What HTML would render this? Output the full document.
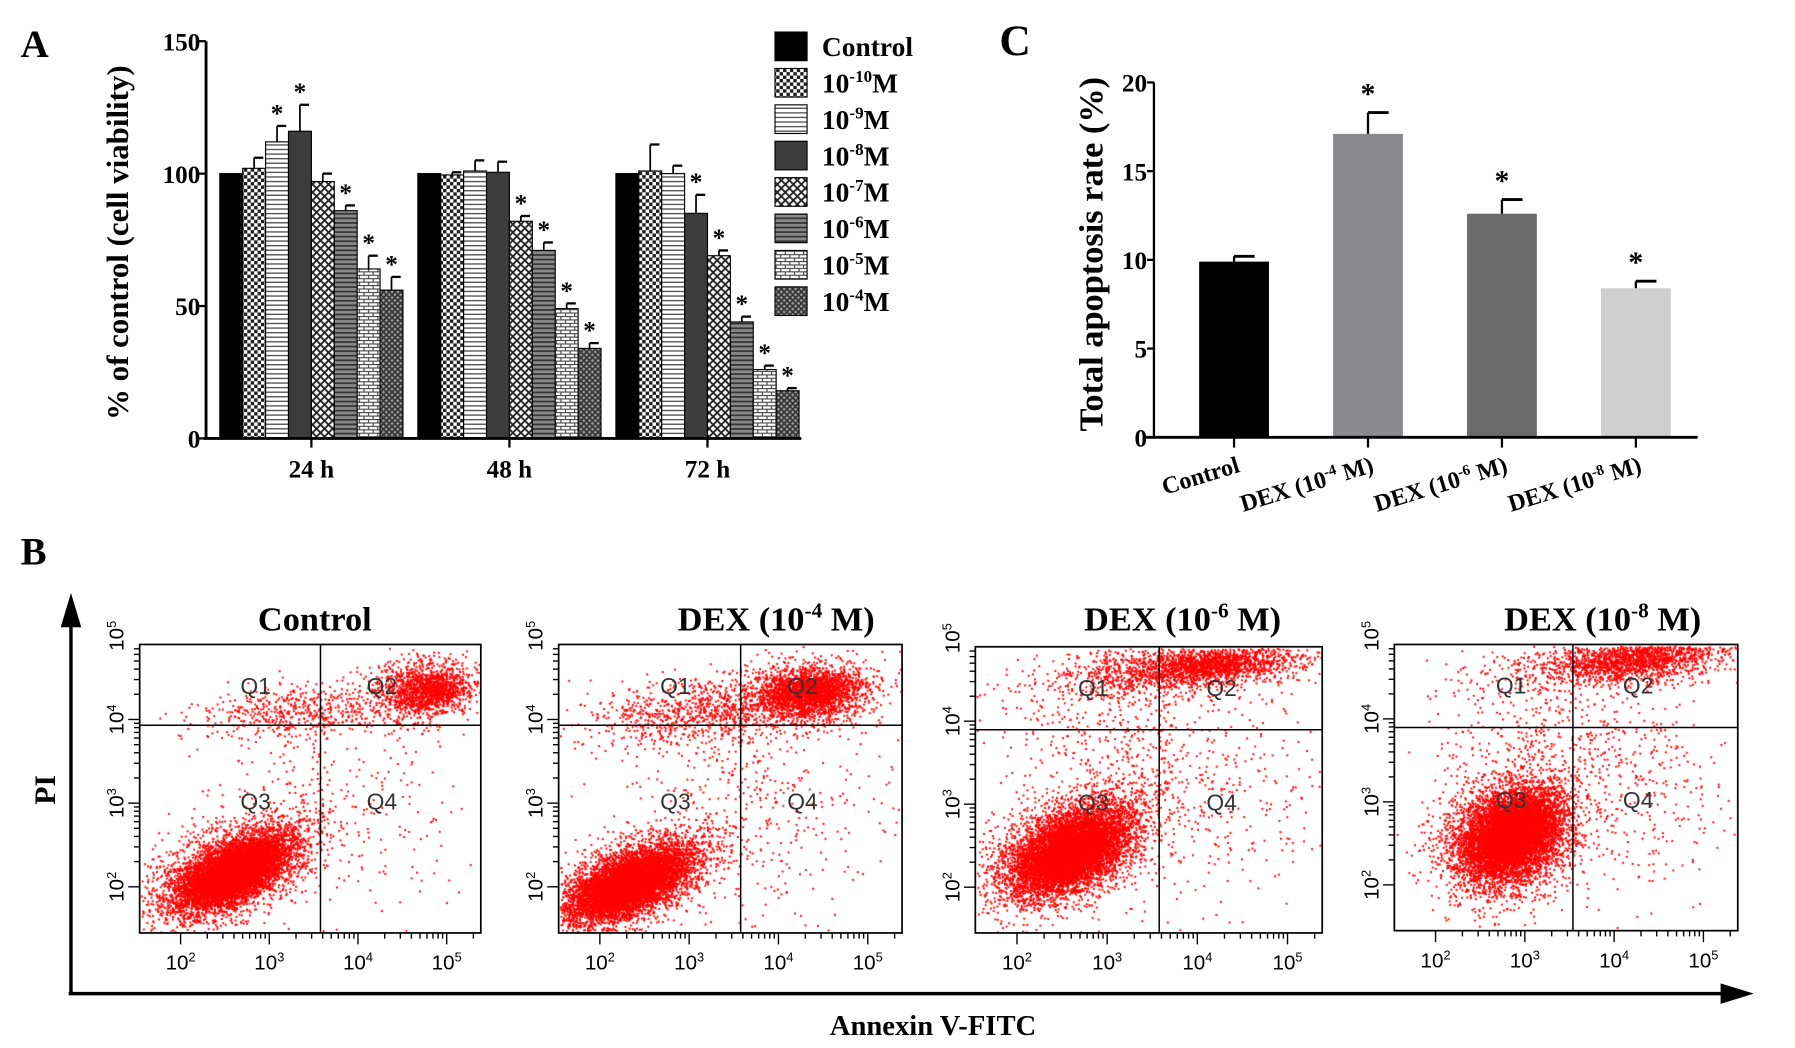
<!DOCTYPE html>
<html><head><meta charset="utf-8"><style>
html,body{margin:0;padding:0;background:#fff;width:1795px;height:1048px;overflow:hidden}
#wrap{position:relative;width:1795px;height:1048px}
svg,canvas{position:absolute;left:0;top:0}
text{font-family:"Liberation Serif",serif;font-weight:bold;fill:#000}
</style></head><body>
<div id="wrap">
<canvas id="cv" width="1795" height="1048"></canvas>
<svg id="svg" width="1795" height="1048" viewBox="0 0 1568 915.5" preserveAspectRatio="none" xmlns="http://www.w3.org/2000/svg">
<defs>
<pattern id="p1" width="6" height="6" patternUnits="userSpaceOnUse"><rect width="6" height="6" fill="#fff"/><rect width="3" height="3" fill="#222"/><rect x="3" y="3" width="3" height="3" fill="#222"/></pattern>
<pattern id="p2" width="6" height="4" patternUnits="userSpaceOnUse"><rect width="6" height="4" fill="#fff"/><rect y="2" width="6" height="1.2" fill="#555"/></pattern>
<pattern id="p4" width="7" height="7" patternUnits="userSpaceOnUse"><rect width="7" height="7" fill="#fff"/><path d="M0 0L7 7M7 0L0 7" stroke="#222" stroke-width="1.6"/></pattern>
<pattern id="p5" width="6" height="4" patternUnits="userSpaceOnUse"><rect width="6" height="4" fill="#888"/><rect y="2" width="6" height="1.5" fill="#333"/></pattern>
<pattern id="p6" width="8" height="6" patternUnits="userSpaceOnUse"><rect width="8" height="6" fill="#fff"/><path d="M0 0.5H8M0 3.5H8M2 0.5V3.5M6 3.5V6" stroke="#444" stroke-width="1"/></pattern>
<pattern id="p7" width="5" height="5" patternUnits="userSpaceOnUse"><rect width="5" height="5" fill="#999"/><path d="M0 0L5 5M5 0L0 5" stroke="#333" stroke-width="1.4"/></pattern>
</defs>
<g id="gA"></g><g id="gC"></g><g id="gB"></g>
</svg>
</div>
<script>
// ---------- Panel A data ----------
const aGroups = ["24 h","48 h","72 h"];
const aSeries = ["Control","10-10M","10-9M","10-8M","10-7M","10-6M","10-5M","10-4M"];
const aVals24 = [100,102,112,116,97,86,64,56];
const aVals48 = [100,99.5,101,100.5,82,71,49,34];
const aVals72 = [100,101,100,85,69,44,26,18];
const aErr24 = [0,4,6,10,3,2,5,5];
const aErr48 = [0,1,4,4,2,3,2,2];
const aErr72 = [0,10,3,7,2,2,1.5,1];
const aStar24 = [0,0,1,1,0,1,1,1];
const aStar48 = [0,0,0,0,1,1,1,1];
const aStar72 = [0,0,0,1,1,1,1,1];
const aTicks = [0,50,100,150];
// ---------- Panel C data ----------
const cCats = ["Control","DEX (10-4 M)","DEX (10-6 M)","DEX (10-8 M)"];
const cVals = [9.9,17.1,12.6,8.4];
const cErr = [0.3,1.2,0.8,0.4];
const cStar = [0,1,1,1];
const cTicks = [0,5,10,15,20];
// ---------- Panel B data ----------
const bTitles = ["Control","DEX (10-4 M)","DEX (10-6 M)","DEX (10-8 M)"];
// clusters: [cx, cy, sx, sy, rotDeg, n] in plot fractions
const bClusters0 = [[0.27,0.78,0.12,0.06,-28,3500],[0.27,0.79,0.08,0.035,-28,6000],[0.82,0.15,0.08,0.05,-10,900],[0.86,0.16,0.05,0.03,-10,700],[0.45,0.23,0.14,0.04,-5,500],[0.55,0.55,0.2,0.18,-30,350]];
const bClusters1 = [[0.21,0.82,0.12,0.055,-25,3500],[0.2,0.83,0.08,0.035,-25,6000],[0.72,0.17,0.1,0.05,-5,1500],[0.73,0.16,0.06,0.03,-5,1200],[0.42,0.23,0.17,0.05,-5,900],[0.55,0.55,0.22,0.2,-30,500]];
const bClusters2 = [[0.27,0.7,0.12,0.07,-30,3500],[0.27,0.72,0.08,0.045,-30,6000],[0.6,0.07,0.2,0.04,-5,1400],[0.68,0.06,0.1,0.025,-5,1000],[0.35,0.3,0.15,0.12,0,300],[0.6,0.5,0.2,0.18,-40,500]];
const bClusters3 = [[0.33,0.67,0.1,0.08,-40,3500],[0.34,0.66,0.07,0.05,-40,6000],[0.66,0.06,0.17,0.04,-5,1100],[0.7,0.05,0.1,0.025,-5,800],[0.4,0.3,0.15,0.12,0,300],[0.65,0.5,0.18,0.16,-40,450]];
const bClusters = [bClusters0,bClusters1,bClusters2,bClusters3];
const bQuadX = [0.53,0.53,0.53,0.52];
const bQuadY = [0.28,0.28,0.29,0.29];

const NS="http://www.w3.org/2000/svg";
function el(tag,attrs,parent,txt){const e=document.createElementNS(NS,tag);for(const k in attrs)e.setAttribute(k,attrs[k]);if(txt!==undefined)e.textContent=txt;parent.appendChild(e);return e;}
function supText(parent,x,y,base,sup,rest,size,anchor,extra){
  const t=el('text',Object.assign({x:x,y:y,'font-size':size,'text-anchor':anchor||'start'},extra||{}),parent);
  el('tspan',{},t,base);
  el('tspan',{dy:-size*0.38,'font-size':size*0.62},t,sup);
  el('tspan',{dy:size*0.38},t,rest);
  return t;
}
const gA=document.getElementById('gA'),gC=document.getElementById('gC'),gB=document.getElementById('gB');

// ===== Panel A =====
const A={x0:180,y0:383,ytop:36,xend:700,max:150,gStart:192,gStep:173,bw:20};
const yA=v=>A.y0-(v/A.max)*(A.y0-A.ytop);
const xA=(g,i)=>A.gStart+g*A.gStep+i*A.bw;
const fills=["#000","url(#p1)","url(#p2)","#3c3c3c","url(#p4)","url(#p5)","url(#p6)","url(#p7)"];
let t=el('text',{x:18,y:50,'font-size':34},gA,'A');
const vals=[aVals24,aVals48,aVals72],errs=[aErr24,aErr48,aErr72],stars=[aStar24,aStar48,aStar72];
for(let g=0;g<3;g++){
  for(let i=0;i<8;i++){
    const v=vals[g][i],x=xA(g,i);
    const r=el('rect',{x:x,y:yA(v),width:A.bw,height:A.y0-yA(v),fill:fills[i],stroke:'#000','stroke-width':1},gA);
    
    if(errs[g][i]>0){const ye=yA(v+errs[g][i]);
      el('line',{x1:x+A.bw/2,x2:x+A.bw/2,y1:yA(v),y2:ye,stroke:'#000','stroke-width':1.5},gA);
      el('line',{x1:x+A.bw/2,x2:x+A.bw-2,y1:ye,y2:ye,stroke:'#000','stroke-width':2},gA);}
    if(stars[g][i]){const s=el('text',{x:x+A.bw/2,y:yA(v+errs[g][i])-4,'font-size':22,'text-anchor':'middle'},gA,'*');
      }
  }
  const cx=xA(g,4);
  el('line',{x1:cx,x2:cx,y1:A.y0,y2:A.y0+8,stroke:'#000','stroke-width':2},gA);
  const l=el('text',{x:cx,y:A.y0+34,'font-size':22,'text-anchor':'middle'},gA,aGroups[g]);
  
}
el('line',{x1:A.x0,x2:A.x0,y1:A.ytop,y2:A.y0+1,stroke:'#000','stroke-width':2.5},gA);
el('line',{x1:A.x0-2,x2:A.xend,y1:A.y0,y2:A.y0,stroke:'#000','stroke-width':2.5},gA);
aTicks.forEach(v=>{el('line',{x1:A.x0-7,x2:A.x0,y1:yA(v),y2:yA(v),stroke:'#000','stroke-width':2},gA);
  const l=el('text',{x:A.x0-5,y:yA(v)+8,'font-size':22,'text-anchor':'end'},gA,v);});
t=el('text',{x:0,y:0,'font-size':27,'text-anchor':'middle',transform:'translate(112,212) rotate(-90)'},gA,'% of control (cell viability)');

for(let i=0;i<8;i++){
  const y=28+i*31.8;
  const r=el('rect',{x:677,y:y,width:28,height:25,fill:fills[i],stroke:'#000','stroke-width':1},gA);
  
  let lt;
  if(i==0) lt=el('text',{x:718,y:y+21,'font-size':24},gA,'Control');
  else lt=supText(gA,718,y+21,'10',aSeries[i].slice(2,aSeries[i].length-1),'M',24);
  
}

// ===== Panel C =====
const C={x0:1008,y0:382,ytop:72,xend:1483,max:20,c0:1078,step:117,bw:61};
const yC=v=>C.y0-(v/C.max)*(C.y0-C.ytop);
const xC=i=>C.c0+i*C.step;
const cFill=["#000","#8a8a8e","#6b6b6b","#cfcfcf"];
t=el('text',{x:873,y:48,'font-size':38},gC,'C');
cVals.forEach((v,i)=>{
  const x=xC(i);
  const r=el('rect',{x:x-C.bw/2,y:yC(v),width:C.bw,height:C.y0-yC(v),fill:cFill[i]},gC);
  
  const ye=yC(v+cErr[i]);
  el('line',{x1:x,x2:x,y1:yC(v),y2:ye,stroke:'#000','stroke-width':2},gC);
  el('line',{x1:x,x2:x+18,y1:ye,y2:ye,stroke:'#000','stroke-width':2.5},gC);
  if(cStar[i]){const s=el('text',{x:x,y:ye-8,'font-size':26,'text-anchor':'middle'},gC,'*');}
  el('line',{x1:x,x2:x,y1:C.y0,y2:C.y0+9,stroke:'#000','stroke-width':2},gC);
  let lt;
  const tr='translate('+(x+6)+','+(C.y0+30)+') rotate(-17)';
  if(i==0) lt=el('text',{x:0,y:0,'font-size':21,'text-anchor':'end',transform:tr},gC,'Control');
  else lt=supText(gC,0,0,'DEX (10',cCats[i].slice(7,9),' M)',21,'end',{transform:tr});
  
});
el('line',{x1:C.x0,x2:C.x0,y1:C.ytop,y2:C.y0+1,stroke:'#000','stroke-width':2},gC);
el('line',{x1:C.x0-8,x2:C.xend,y1:C.y0,y2:C.y0,stroke:'#000','stroke-width':2.5},gC);
cTicks.forEach(v=>{el('line',{x1:C.x0-6,x2:C.x0,y1:yC(v),y2:yC(v),stroke:'#000','stroke-width':2},gC);
  const l=el('text',{x:C.x0-6,y:yC(v)+8,'font-size':22,'text-anchor':'end'},gC,v);});
t=el('text',{x:0,y:0,'font-size':30,'text-anchor':'middle',transform:'translate(963,222) rotate(-90)'},gC,'Total apoptosis rate (%)');


// ===== Panel B =====
t=el('text',{x:18,y:493,'font-size':34},gB,'B');
el('line',{x1:62,x2:62,y1:868,y2:540,stroke:'#000','stroke-width':3},gB);
el('polygon',{points:'53,548 71,548 62,518'},gB);
el('line',{x1:60,x2:1510,y1:868,y2:868,stroke:'#000','stroke-width':3},gB);
el('polygon',{points:'1503,859 1503,877 1532,868'},gB);
t=el('text',{x:0,y:0,'font-size':26,'text-anchor':'middle',transform:'translate(48,690) rotate(-90)'},gB,'PI');
t=el('text',{x:815,y:904,'font-size':25,'text-anchor':'middle'},gB,'Annexin V-FITC');
const boxes=[[122,563,298,252],[488,563,300,252],[852,565,303,250],[1218,563,300,250]];
const S=1795/1568;
const ctx=document.getElementById('cv').getContext('2d');
ctx.scale(S,1048/915.5);
let seed=12345;function rnd(){seed=(seed*1103515245+12345)&0x7fffffff;return seed/0x7fffffff;}
function gauss(){let u=rnd()||1e-6,v=rnd();return Math.sqrt(-2*Math.log(u))*Math.cos(2*Math.PI*v);}
ctx.fillStyle='#ff0000';
boxes.forEach((b,p)=>{
  const [bx,by,bw,bh]=b;
  const g=el('g',{},gB);
  bClusters[p].forEach(c=>{
    const [cx,cy,sx,sy,rot,n]=c;const a=rot*Math.PI/180;
    for(let k=0;k<n;k++){
      const u=gauss()*sx*bw,v=gauss()*sy*bh*2.2;
      const x=bx+cx*bw+u*Math.cos(a)-v*Math.sin(a)*0.6;
      const y=by+cy*bh+u*Math.sin(a)+v*Math.cos(a)*0.5;
      if(x>bx+1&&x<bx+bw-1&&y>by+1&&y<by+bh-1)ctx.fillRect(x,y,1.7,1.7);
    }
  });
  el('rect',{x:bx,y:by,width:bw,height:bh,fill:'none',stroke:'#000','stroke-width':1.5},g);
  const qx=bx+bQuadX[p]*bw,qy=by+bQuadY[p]*bh;
  el('line',{x1:qx,x2:qx,y1:by,y2:by+bh,stroke:'#000','stroke-width':1.3},g);
  el('line',{x1:bx,x2:bx+bw,y1:qy,y2:qy,stroke:'#000','stroke-width':1.3},g);
  [['Q1',0.34,0.14],['Q2',0.71,0.14],['Q3',0.34,0.54],['Q4',0.71,0.54]].forEach(q=>{
    const l=el('text',{x:bx+q[1]*bw,y:by+q[2]*bh+8,'font-size':20,'text-anchor':'middle',style:'font-family:Liberation Sans,sans-serif;font-weight:normal;fill:#333'},g,q[0]);
    });
  for(let d=0;d<4;d++){
    const tx=bx+bw*(0.12+d*0.26), ty=by+bh*(0.84-d*0.29);
    for(let m=1;m<10;m++){const off=Math.log10(m)*bw*0.26;const len=m==1?10:5;
      if(tx+off<bx+bw-4)el('line',{x1:tx+off,x2:tx+off,y1:by+bh,y2:by+bh+len,stroke:'#000','stroke-width':1.2},g);
      const offy=Math.log10(m)*bh*0.29; if(ty-offy>by+3)el('line',{x1:bx,x2:bx-len,y1:ty-offy,y2:ty-offy,stroke:'#000','stroke-width':1.2},g);}
    const xl=supText(g,tx,by+bh+32,'10',String(d+2),'',18,'middle',{style:'font-family:Liberation Sans,sans-serif;font-weight:normal'});
    
    const yl=supText(g,0,0,'10',String(d+2),'',18,'middle',{style:'font-family:Liberation Sans,sans-serif;font-weight:normal',transform:'translate('+(bx-14)+','+ty+') rotate(-90)'});
    
  }
  let tt;const tcx=[275,678,1033,1400][p];
  if(p==0) tt=el('text',{x:tcx,y:551,'font-size':30,'text-anchor':'middle'},g,'Control');
  else tt=supText(g,tcx,551,'DEX (10',bTitles[p].slice(7,9),' M)',30,'middle');
  
});
</script>
</body></html>
